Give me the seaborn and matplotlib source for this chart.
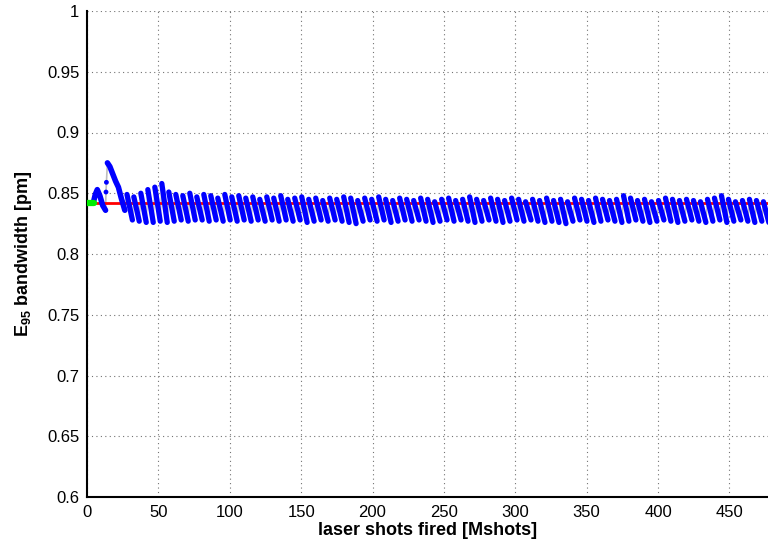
import numpy as np
import pandas as pd
import matplotlib.pyplot as plt
import seaborn as sns

# start-up transient [Mshots], [pm]
rise_x = [4.6, 5.8, 7.2, 9.0, 11.0, 13.0]
rise_y = [0.843, 0.849, 0.853, 0.848, 0.840, 0.836]
jump_x = [13.0, 13.3, 13.6, 14.3]
jump_y = [0.836, 0.851, 0.859, 0.875]
decay_x = [14.3, 16.0, 18.0, 20.0, 22.0, 24.0, 26.5]
decay_y = [0.875, 0.872, 0.866, 0.860, 0.855, 0.846, 0.836]

# sawtooth cycles: start of each cycle, value at top and at bottom
cycle_start = [
    28.0, 32.8, 37.7, 42.6, 47.5, 52.4, 57.3, 62.2, 67.1, 72.0,
    76.9, 81.8, 86.7, 91.6, 96.5, 101.4, 106.3, 111.2, 116.1, 121.0,
    125.9, 130.8, 135.7, 140.6, 145.5, 150.4, 155.3, 160.2, 165.1, 170.0,
    174.9, 179.8, 184.7, 189.6, 194.5, 199.4, 204.3, 209.2, 214.1, 219.0,
    223.9, 228.8, 233.7, 238.6, 243.5, 248.4, 253.3, 258.2, 263.1, 268.0,
    272.9, 277.8, 282.7, 287.6, 292.5, 297.4, 302.3, 307.2, 312.1, 317.0,
    321.9, 326.8, 331.7, 336.6, 341.5, 346.4, 351.3, 356.2, 361.1, 366.0,
    370.9, 375.8, 380.7, 385.6, 390.5, 395.4, 400.3, 405.2, 410.1, 415.0,
    419.9, 424.8, 429.7, 434.6, 439.5, 444.4, 449.3, 454.2, 459.1, 464.0,
    468.9, 473.8,
]
cycle_top = [
    0.849, 0.847, 0.850, 0.853, 0.855, 0.858, 0.851, 0.849, 0.848, 0.850,
    0.847, 0.849, 0.848, 0.846, 0.849, 0.847, 0.848, 0.846, 0.847, 0.845,
    0.847, 0.846, 0.848, 0.845, 0.846, 0.847, 0.845, 0.846, 0.844, 0.846,
    0.845, 0.847, 0.846, 0.844, 0.846, 0.845, 0.847, 0.845, 0.844, 0.846,
    0.845, 0.844, 0.846, 0.845, 0.843, 0.845, 0.846, 0.844, 0.845, 0.847,
    0.845, 0.844, 0.846, 0.845, 0.844, 0.846, 0.845, 0.843, 0.845, 0.844,
    0.846, 0.844, 0.845, 0.843, 0.846, 0.845, 0.844, 0.846, 0.845, 0.844,
    0.845, 0.848, 0.846, 0.844, 0.845, 0.843, 0.844, 0.846, 0.845, 0.844,
    0.845, 0.844, 0.843, 0.845, 0.846, 0.848, 0.845, 0.843, 0.844, 0.845,
    0.844, 0.843,
]
cycle_bottom = [
    0.828, 0.827, 0.826, 0.826, 0.827, 0.826, 0.827, 0.828, 0.827, 0.828,
    0.828, 0.827, 0.828, 0.827, 0.828, 0.827, 0.828, 0.827, 0.828, 0.827,
    0.828, 0.827, 0.828, 0.827, 0.828, 0.826, 0.827, 0.828, 0.827, 0.828,
    0.827, 0.826, 0.825, 0.827, 0.828, 0.827, 0.828, 0.826, 0.827, 0.828,
    0.827, 0.828, 0.827, 0.826, 0.827, 0.828, 0.827, 0.828, 0.827, 0.826,
    0.827, 0.828, 0.827, 0.826, 0.827, 0.828, 0.827, 0.828, 0.827, 0.826,
    0.827, 0.826, 0.825, 0.827, 0.828, 0.827, 0.826, 0.827, 0.828, 0.827,
    0.826, 0.827, 0.828, 0.827, 0.826, 0.827, 0.828, 0.827, 0.826, 0.827,
    0.828, 0.827, 0.826, 0.827, 0.828, 0.826, 0.827, 0.828, 0.827, 0.826,
    0.827, 0.826,
]

# reference levels
green_x = [0.3, 4.8]
green_y = [0.842, 0.842]
red_x = [5.0, 477.0]
red_y = [0.842, 0.842]

xticks = [0, 50, 100, 150, 200, 250, 300, 350, 400, 450]
yticks = [0.6, 0.65, 0.7, 0.75, 0.8, 0.85, 0.9, 0.95, 1.0]
ytick_labels = ['0.6', '0.65', '0.7', '0.75', '0.8', '0.85', '0.9', '0.95', '1']

STRAND_W = 3.8  # horizontal extent of one falling strand

sns.set_theme(style="white")
plt.rcParams['font.family'] = ['Liberation Sans', 'DejaVu Sans']
plt.rcParams['mathtext.fontset'] = 'custom'
plt.rcParams['mathtext.rm'] = 'Liberation Sans'
plt.rcParams['mathtext.bf'] = 'Liberation Sans:bold'
plt.rcParams['text.color'] = 'black'
plt.rcParams['axes.labelcolor'] = 'black'

rows = []
for i, (s, t, b) in enumerate(zip(cycle_start, cycle_top, cycle_bottom)):
    rows.append({'cycle': i, 'x': s, 'y': t})
    rows.append({'cycle': i, 'x': s + STRAND_W, 'y': b})
saw = pd.DataFrame(rows)

fig = plt.figure(figsize=(7.68, 5.48), dpi=100)
ax = fig.add_axes([87 / 768, 51 / 548, 681 / 768, 486 / 548])

# gray connecting line under the dots
conn = pd.DataFrame({'x': decay_x[-1:] + list(saw['x']), 'y': decay_y[-1:] + list(saw['y'])})
sns.lineplot(data=conn, x='x', y='y', sort=False, estimator=None, color='0.75', lw=1, ax=ax, zorder=2)
sns.lineplot(x=jump_x, y=jump_y, sort=False, estimator=None, color='0.75', lw=1.2, ax=ax, zorder=2)

# reference lines
ax.plot(red_x, red_y, color='red', lw=2, zorder=3)
ax.plot(green_x, green_y, color='#00ee00', lw=4.5, solid_capstyle='round', zorder=7)

# blue measured samples
sns.lineplot(data=saw, x='x', y='y', units='cycle', estimator=None, color='blue',
             lw=3.8, ax=ax, zorder=5, solid_capstyle='round')
for xs, ys in [(rise_x, rise_y), (decay_x, decay_y)]:
    sns.lineplot(x=xs, y=ys, sort=False, estimator=None, color='blue', lw=4,
                 ax=ax, zorder=5, solid_capstyle='round')
sns.scatterplot(x=jump_x[1:3], y=jump_y[1:3], color='blue', s=12, edgecolor='none', ax=ax, zorder=6)

ax.set_xlim(0, 477)
ax.set_ylim(0.6, 1.0)
ax.set_xticks(xticks)
ax.set_yticks(yticks)
ax.set_yticklabels(ytick_labels)
ax.set_axisbelow(True)
ax.grid(True, linestyle=(0, (1, 3)), color='0.45', lw=0.8)

for side in ['top', 'right']:
    ax.spines[side].set_visible(False)
for side in ['left', 'bottom']:
    ax.spines[side].set_linewidth(1.5)
    ax.spines[side].set_color('black')
ax.tick_params(direction='in', length=5, width=1.2, labelsize=12, colors='black', pad=5.5)

ax.set_xlabel('laser shots fired [Mshots]', fontsize=13, fontweight='bold', labelpad=2)
ax.set_ylabel(r'$\mathbf{E_{95}}$ bandwidth [pm]', fontsize=13, fontweight='bold', labelpad=9)

fig.savefig('out.png', dpi=100)
